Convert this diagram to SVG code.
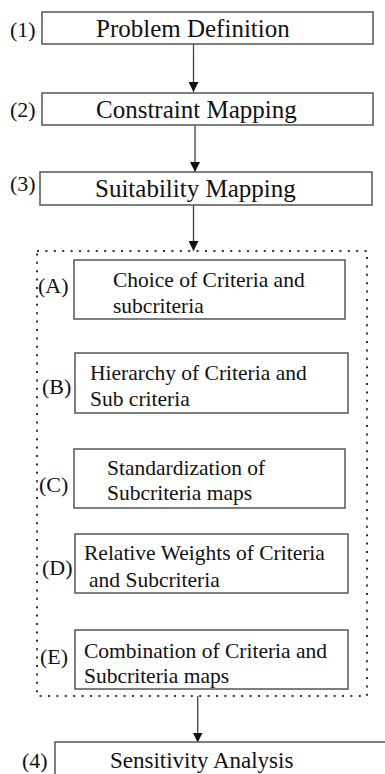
<svg xmlns="http://www.w3.org/2000/svg" width="385" height="774" viewBox="0 0 385 774">
<style>
text{font-family:"Liberation Serif","Times New Roman",serif;fill:#111}
.big{font-size:25px}
.mid{font-size:21.5px}
.lab{font-size:22px}
.box{fill:#fff;stroke:#555;stroke-width:1.5}
.con{stroke:#444;stroke-width:1.3;fill:none}
.dot{fill:none;stroke:#333;stroke-width:2;stroke-dasharray:2 6.4}
</style>
<defs>
<marker id="ah" markerWidth="10" markerHeight="10" refX="10" refY="5" orient="auto" markerUnits="userSpaceOnUse">
<path d="M0,0 L10,5 L0,10 Z" fill="#111"/>
</marker>
</defs>
<rect width="385" height="774" fill="#fff"/>
<g id="group">
<rect class="dot" x="37" y="251" width="330" height="445"/>
</g>
<g id="connectors">
<line class="con" x1="193.5" y1="44" x2="193.5" y2="92" marker-end="url(#ah)"/>
<line class="con" x1="195" y1="125" x2="195" y2="172" marker-end="url(#ah)"/>
<line class="con" x1="193.5" y1="205" x2="193.5" y2="251" marker-end="url(#ah)"/>
<line class="con" x1="197.7" y1="696" x2="197.7" y2="742.5" marker-end="url(#ah)"/>
</g>
<g id="n1">
<rect class="box" x="42" y="12" width="331" height="32"/>
<text class="lab" x="10" y="37">(1)</text>
<text class="big" x="96" y="37">Problem Definition</text>
</g>
<g id="n2">
<rect class="box" x="42" y="93" width="331" height="32"/>
<text class="lab" x="10" y="117">(2)</text>
<text class="big" x="96" y="118">Constraint Mapping</text>
</g>
<g id="n3">
<rect class="box" x="40" y="172" width="332" height="33"/>
<text class="lab" x="10" y="191">(3)</text>
<text class="big" x="95" y="197">Suitability Mapping</text>
</g>
<g id="nA">
<rect class="box" x="74" y="260" width="271" height="59"/>
<text class="lab" x="38" y="293">(A)</text>
<text class="mid" x="113" y="287">Choice of Criteria and</text>
<text class="mid" x="113" y="313">subcriteria</text>
</g>
<g id="nB">
<rect class="box" x="75" y="353" width="273" height="60"/>
<text class="lab" x="42" y="394">(B)</text>
<text class="mid" x="90" y="380">Hierarchy of Criteria and</text>
<text class="mid" x="90" y="406">Sub criteria</text>
</g>
<g id="nC">
<rect class="box" x="74" y="449" width="271" height="59"/>
<text class="lab" x="39" y="492">(C)</text>
<text class="mid" x="107" y="475">Standardization of</text>
<text class="mid" x="107" y="500">Subcriteria maps</text>
</g>
<g id="nD">
<rect class="box" x="75" y="534" width="273" height="59"/>
<text class="lab" x="42" y="575">(D)</text>
<text class="mid" x="84" y="560">Relative Weights of Criteria</text>
<text class="mid" x="89" y="587">and Subcriteria</text>
</g>
<g id="nE">
<rect class="box" x="75" y="630" width="273" height="59"/>
<text class="lab" x="40" y="664">(E)</text>
<text class="mid" x="84" y="658">Combination of Criteria and</text>
<text class="mid" x="84" y="683">Subcriteria maps</text>
</g>
<g id="n4">
<rect class="box" x="55" y="742" width="340" height="50"/>
<text class="lab" x="22" y="768">(4)</text>
<text style="font-size:23px" x="110" y="768">Sensitivity Analysis</text>
</g>
</svg>
